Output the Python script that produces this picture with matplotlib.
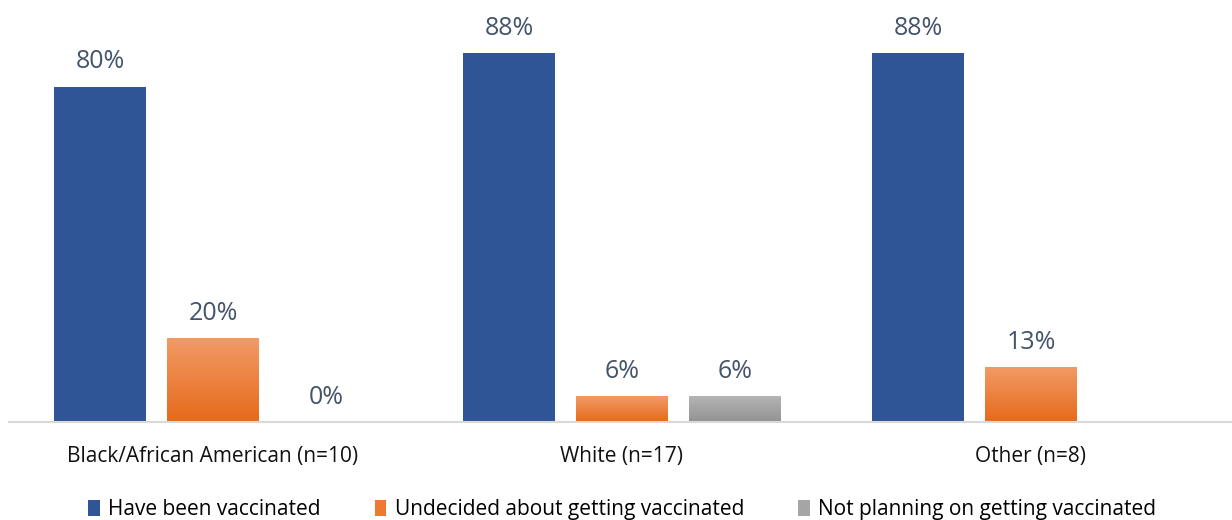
import matplotlib.pyplot as plt
import numpy as np
from matplotlib.patches import Patch
from matplotlib.colors import LinearSegmentedColormap

groups = ['Black/African American (n=10)', 'White (n=17)', 'Other (n=8)']
series = ['Have been vaccinated', 'Undecided about getting vaccinated',
          'Not planning on getting vaccinated']
vaccinated = [80, 88, 88]
undecided = [20, 6, 13]
not_planning = [0, 6, None]

plt.rcParams['font.family'] = ['Open Sans', 'DejaVu Sans']

fig = plt.figure(figsize=(12.32, 5.2), dpi=100)
ax = fig.add_axes([8.5 / 1232, 98 / 520, 1227 / 1232, 419 / 520])

x = np.arange(len(groups))
w = 92 / 409
step = 113 / 409
colors = ['#2F5597', '#ED7D31', '#A5A5A5']
grads = [None, ('#F29A66', '#E66A1A'), ('#B4B4B4', '#939393')]
label_color = '#44546A'

data = [vaccinated, undecided, not_planning]
for i, vals in enumerate(data):
    xs = [xx + (i - 1) * step for xx, v in zip(x, vals) if v is not None]
    vs = [v for v in vals if v is not None]
    bars = ax.bar(xs, vs, width=w, color=colors[i], zorder=2)
    if grads[i] is not None:
        cmap = LinearSegmentedColormap.from_list('g%d' % i, [grads[i][1], grads[i][0]])
        for b in bars:
            bx, by = b.get_x(), b.get_y()
            bw, bh = b.get_width(), b.get_height()
            if bh <= 0:
                continue
            grad = np.linspace(0, 1, 100).reshape(-1, 1)
            ax.imshow(grad, extent=[bx, bx + bw, by, by + bh], origin='lower',
                      cmap=cmap, aspect='auto', zorder=3)
            b.set_visible(False)
    for xx, v in zip(xs, vs):
        ax.annotate('%d%%' % v, (xx, v), xytext=(0, 9), textcoords='offset points',
                    ha='center', va='bottom', fontsize=18, color=label_color)

ax.set_xlim(-0.5, 2.5)
ax.set_ylim(0, 100)
ax.set_xticks(x)
ax.set_xticklabels(groups, fontsize=15, color='#111111')
ax.tick_params(axis='x', length=0, pad=17)
ax.set_yticks([])
for s in ['top', 'right', 'left']:
    ax.spines[s].set_visible(False)
ax.spines['bottom'].set_color('#D9D9D9')
ax.spines['bottom'].set_linewidth(1.5)
ax.spines['bottom'].set_zorder(4)

handles = [Patch(facecolor='#2F5597'), Patch(facecolor='#EE7A30'),
           Patch(facecolor='#A5A5A5')]
fig.legend(handles, series, loc='center', bbox_to_anchor=(0.505, 0.02),
           ncol=3, frameon=False, fontsize=15, handlelength=0.55, handleheight=0.8,
           handletextpad=0.4, columnspacing=2.6)

fig.savefig('out.png', dpi=100)
